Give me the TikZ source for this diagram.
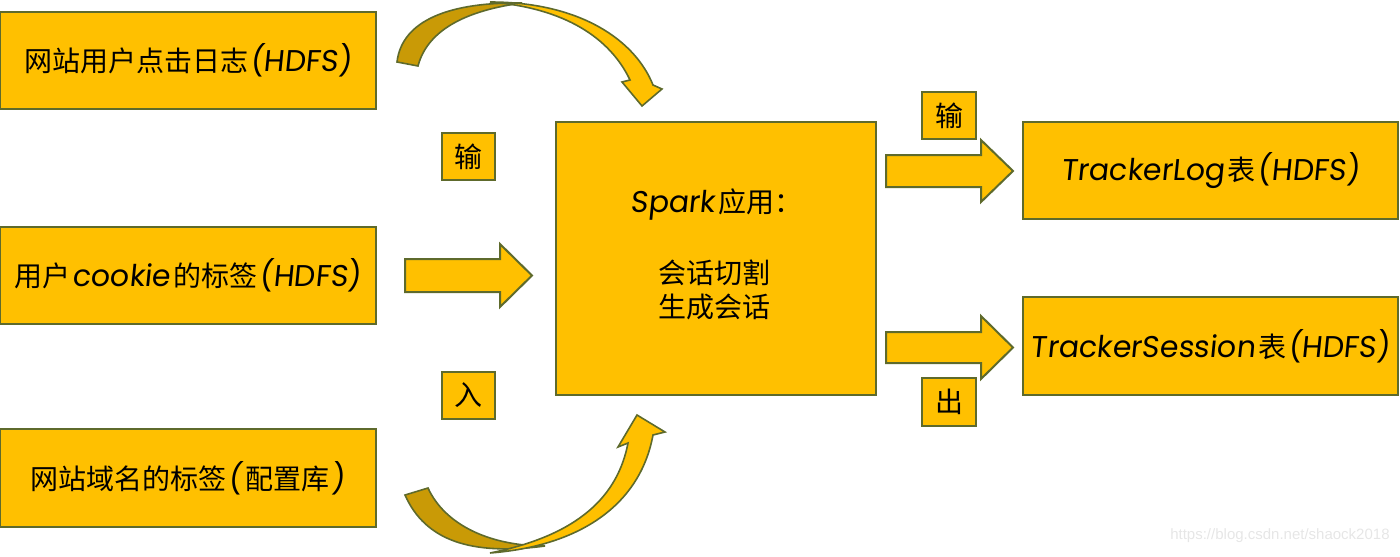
\documentclass[tikz,border=0pt]{standalone}
\usepackage{fontspec}
\setmainfont{Noto Sans CJK SC}
\newfontfamily\lat{Poppins}[FakeSlant=0.1]
\newfontfamily\wm{Liberation Sans}
\definecolor{gold}{HTML}{FFC000}
\definecolor{golddark}{HTML}{C99A06}
\definecolor{olive}{HTML}{5E6A2C}
\definecolor{wmgray}{HTML}{E6E6E6}
\newcommand{\latt}[1]{{\lat\fontsize{15}{17}\selectfont #1}}
\begin{document}
\begin{tikzpicture}[x=0.5pt,y=-0.5pt,
  box/.style={draw=olive,fill=gold,line width=1pt,inner sep=0pt,font=\fontsize{14}{17}\selectfont},
  bigbox/.style={box,minimum width=188pt,minimum height=48.5pt},
  tagbox/.style={box,minimum width=26.5pt,minimum height=23.5pt},
  blockarrow/.style={draw=olive,fill=gold,line width=1pt,line join=miter},
  darkpart/.style={draw=olive,fill=golddark,line width=0.8pt},
  lightpart/.style={draw=olive,fill=gold,line width=0.8pt},
  txt/.style={inner sep=0pt,anchor=west,font=\fontsize{14}{17}\selectfont}]
\useasboundingbox (0,0) rectangle (1400,556);
% left boxes
\node[bigbox] (l1) at (188,60.5) {网站用户点击日志\kern1pt\latt{(HDFS)}};
\node[bigbox] (l2) at (188,275.5) {用户\kern1pt\latt{cookie}\kern1.5pt的标签\kern1pt\latt{(HDFS)}};
\node[bigbox,minimum height=49pt] (l3) at (188,478) {网站域名的标签\kern1pt\latt{(}\kern1.5pt配置库\kern1pt\latt{)}};
% tags
\node[tagbox] (s1) at (468,156.5) {输};
\node[tagbox] (s2) at (468,395.5) {入};
\node[tagbox,minimum width=27pt] (s3) at (949,115.5) {输};
\node[tagbox,minimum width=27pt,minimum height=24pt] (s4) at (949,402) {出};
% center
\node[box,minimum width=160pt,minimum height=136.5pt] (c) at (716,258.5) {};
\node[txt] (c1) at (630,205) {\latt{Spark}\kern1.5pt应用：};
\node[txt] (c2) at (658,273) {会话切割};
\node[txt] (c3) at (658,307) {生成会话};
% right boxes
\node[box,minimum width=187.5pt,minimum height=48.5pt] (r1) at (1210.5,170.5) {\latt{TrackerLog}\kern1.5pt表\kern1pt\latt{(HDFS)}};
\node[box,minimum width=187.5pt,minimum height=49pt] (r2) at (1210.5,346) {\latt{TrackerSession}\kern1.5pt表\kern1pt\latt{(HDFS)}};
% straight block arrows
\draw[blockarrow] (405,259) -- (500,259) -- (500,244) -- (532,275.5) -- (500,307) -- (500,292) -- (405,292) -- cycle;
\draw[blockarrow] (886,155) -- (981,155) -- (981,140) -- (1013,171) -- (981,202) -- (981,187) -- (886,187) -- cycle;
\draw[blockarrow] (886,332) -- (981,332) -- (981,316) -- (1013,347.5) -- (981,379) -- (981,363) -- (886,363) -- cycle;
% top curved arrow
\draw[darkpart] (397,62) .. controls (402,20) and (450,2) .. (522,3)
   .. controls (470,10) and (428,28) .. (418,66) -- cycle;
\draw[lightpart] (490,2) .. controls (580,2) and (635,40) .. (653,85) -- (662,89) -- (642,106) -- (622,82) -- (630,80)
   .. controls (610,38) and (565,8) .. (490,2) -- cycle;
% bottom curved arrow
\draw[darkpart] (405,495) .. controls (425,540) and (470,556) .. (545,546)
   .. controls (490,546) and (445,525) .. (428,488) -- cycle;
\draw[lightpart] (490,553) .. controls (580,546) and (640,505) .. (653,435) -- (665,432) -- (637,415) -- (618,447) -- (628,443)
   .. controls (618,495) and (580,535) .. (490,553) -- cycle;
% watermark
\node[inner sep=0pt,anchor=east,text=wmgray,font=\wm\fontsize{7.5}{9}\selectfont] (wm) at (1390,536) {https://blog.csdn.net/shaock2018};
\end{tikzpicture}
\end{document}
